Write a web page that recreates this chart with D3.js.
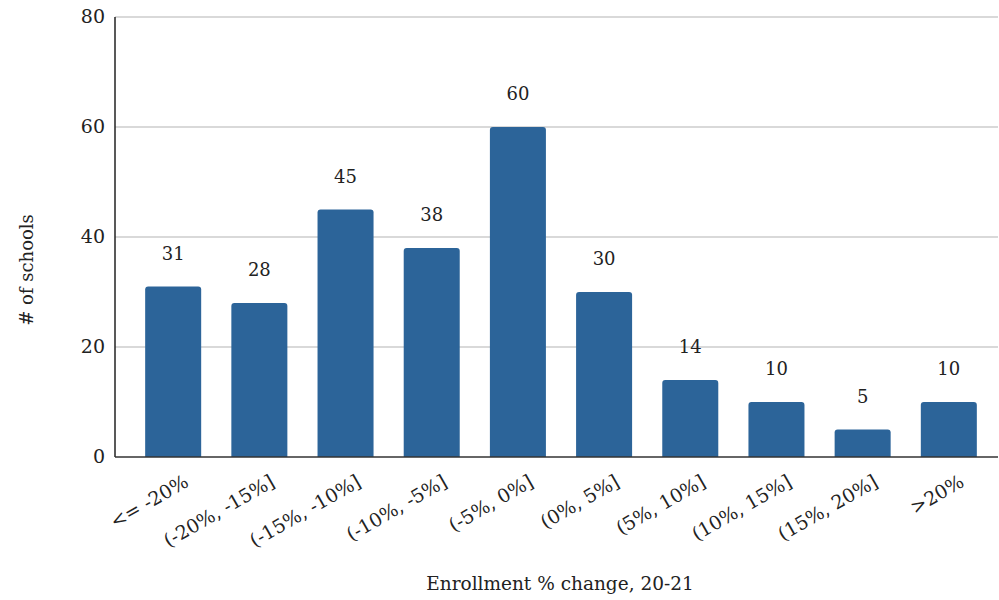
<!DOCTYPE html>
<html>
<head>
<meta charset="utf-8">
<script src="https://cdn.jsdelivr.net/npm/d3@7"></script>
<style>
  html, body { margin: 0; padding: 0; background: #fff; }
  svg { display: block; font-family: "DejaVu Serif", "Liberation Serif", serif; }
</style>
</head>
<body>
<svg id="chart" width="999" height="600"></svg>
<script>
// Enrollment change buckets and school counts
const categories = ["<= -20%", "(-20%, -15%]", "(-15%, -10%]", "(-10%, -5%]", "(-5%, 0%]",
                    "(0%, 5%]", "(5%, 10%]", "(10%, 15%]", "(15%, 20%]", ">20%"];
const counts = [31, 28, 45, 38, 60, 30, 14, 10, 5, 10];
const yTicks = [0, 20, 40, 60, 80];

const svg = d3.select("#chart");
const plotLeft = 115, plotRight = 998, plotTop = 17, plotBottom = 457;

const x = d3.scaleBand()
  .domain(categories)
  .range([plotLeft, 1007])
  .paddingInner(0.35)
  .paddingOuter(0.35);

const y = d3.scaleLinear().domain([0, 80]).range([plotBottom, plotTop]);

// horizontal gridlines
svg.append("g")
  .selectAll("line")
  .data(yTicks.filter(d => d > 0))
  .join("line")
  .attr("x1", plotLeft).attr("x2", plotRight)
  .attr("y1", d => y(d)).attr("y2", d => y(d))
  .attr("stroke", "#cccccc").attr("stroke-width", 1.5);

// y tick labels
svg.append("g")
  .selectAll("text")
  .data(yTicks)
  .join("text")
  .attr("x", 105)
  .attr("y", d => y(d))
  .attr("dy", "0.3em")
  .attr("text-anchor", "end")
  .attr("font-size", 19)
  .attr("fill", "#222")
  .text(d => d);

// bars with slightly rounded tops
const r = 3;
svg.append("g")
  .selectAll("path")
  .data(counts)
  .join("path")
  .attr("fill", "#2c6499")
  .attr("d", (d, i) => {
    const x0 = x(categories[i]), w = x.bandwidth();
    const y0 = y(d), y1 = y(0);
    return `M${x0},${y1}V${y0 + r}Q${x0},${y0} ${x0 + r},${y0}H${x0 + w - r}Q${x0 + w},${y0} ${x0 + w},${y0 + r}V${y1}Z`;
  });

// value labels
svg.append("g")
  .selectAll("text")
  .data(counts)
  .join("text")
  .attr("x", (d, i) => x(categories[i]) + x.bandwidth() / 2)
  .attr("y", d => y(d) - 27)
  .attr("text-anchor", "middle")
  .attr("font-size", 18)
  .attr("fill", "#222")
  .text(d => d);

// axis lines
svg.append("line")
  .attr("x1", plotLeft).attr("x2", plotLeft)
  .attr("y1", plotTop).attr("y2", plotBottom)
  .attr("stroke", "#222").attr("stroke-width", 1.5);
svg.append("line")
  .attr("x1", plotLeft).attr("x2", plotRight)
  .attr("y1", plotBottom).attr("y2", plotBottom)
  .attr("stroke", "#333").attr("stroke-width", 1.5);

// rotated category labels
svg.append("g")
  .selectAll("text")
  .data(categories)
  .join("text")
  .attr("transform", d => `translate(${x(d) + x.bandwidth() / 2 + 10},${474}) rotate(-30)`)
  .attr("text-anchor", "end")
  .attr("dy", "0.7em")
  .attr("font-size", 19)
  .attr("fill", "#222")
  .text(d => d);

// axis titles
svg.append("text")
  .attr("x", 560).attr("y", 590)
  .attr("text-anchor", "middle")
  .attr("font-size", 18.5)
  .attr("fill", "#222")
  .text("Enrollment % change, 20-21");

svg.append("text")
  .attr("transform", "translate(33,270) rotate(-90)")
  .attr("text-anchor", "middle")
  .attr("font-size", 18)
  .attr("fill", "#222")
  .text("# of schools");
</script>
</body>
</html>
